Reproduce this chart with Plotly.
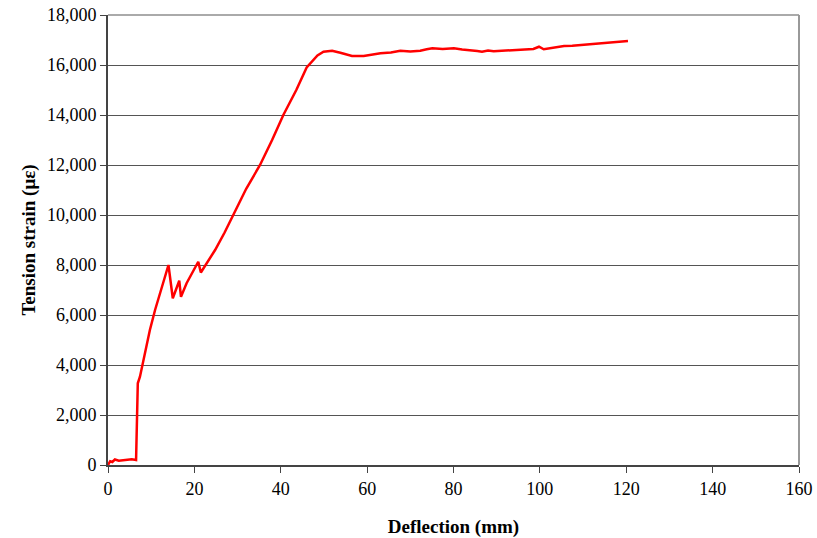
import plotly.graph_objects as go

deflection = [0.0, 0.5, 1.0, 1.6, 2.5, 3.5, 4.5, 5.5, 6.5, 6.7, 6.9, 7.4, 8.2, 9.0, 9.7, 10.9, 12.4, 13.4, 14.0,
              15.0, 16.5, 16.9, 18.2, 20.0, 20.9, 21.5, 23.7, 24.8, 27.0, 29.0, 32.0, 35.2, 38.0, 40.6,
              43.6, 46.0, 47.2, 48.5, 49.9, 51.9, 53.8, 56.5, 59.2, 61.0, 63.1, 65.5, 67.7, 70.0, 72.3,
              73.8, 75.1, 77.5, 80.1, 82.0, 83.9, 85.5, 86.6, 88.0, 89.3, 91.5, 94.0, 96.5, 98.5,
              99.8, 100.9, 103.0, 105.6, 107.5, 109.4, 111.5, 114.1, 115.5, 117.2, 119.0, 120.4]
strain = [0, 150, 120, 220, 170, 200, 210, 230, 200, 1500, 3270, 3530, 4200, 4850, 5400, 6200, 7130, 7650, 8000,
          6670, 7370, 6730, 7270, 7850, 8130, 7700, 8330, 8600, 9300, 10000, 11050, 12000, 13000, 14000,
          15000, 15900, 16130, 16380, 16530, 16570, 16490, 16360, 16360, 16420, 16470, 16500, 16570, 16540, 16570,
          16630, 16670, 16640, 16670, 16620, 16600, 16560, 16530, 16580, 16550, 16580, 16600, 16620, 16640,
          16730, 16630, 16680, 16760, 16770, 16800, 16840, 16890, 16900, 16930, 16950, 16960]

x_ticks = [0, 20, 40, 60, 80, 100, 120, 140, 160]
y_ticks = [0, 2000, 4000, 6000, 8000, 10000, 12000, 14000, 16000, 18000]

font_family = "Liberation Serif"

fig = go.Figure()
fig.add_trace(go.Scatter(x=deflection, y=strain, mode="lines",
                         line=dict(color="#ff0000", width=2.5), showlegend=False))

fig.update_layout(
    width=817, height=538,
    margin=dict(l=108, r=18, t=15, b=73, autoexpand=False),
    paper_bgcolor="white", plot_bgcolor="white",
    font=dict(family=font_family, size=18, color="black"),
    xaxis=dict(range=[0, 160], tickvals=x_ticks, ticktext=[str(v) for v in x_ticks],
               automargin=False,
               showgrid=False, zeroline=False, showline=True, linecolor="#444", linewidth=2,
               ticks="outside", ticklen=6, tickcolor="#444", tickwidth=1,
               tickfont=dict(family=font_family, size=18),
               title=dict(text="<b>Deflection (mm)</b>", font=dict(family=font_family, size=19), standoff=22)),
    yaxis=dict(range=[0, 18000], tickvals=y_ticks, ticktext=[f"{v:,}" for v in y_ticks],
               automargin=False,
               showgrid=True, gridcolor="#555", gridwidth=1, zeroline=False,
               showline=True, linecolor="#444", linewidth=2,
               ticks="outside", ticklen=6, tickcolor="#444", tickwidth=1,
               tickfont=dict(family=font_family, size=18),
               title=dict(text="<b>Tension strain (με)</b>", font=dict(family=font_family, size=19), standoff=6)),
    shapes=[
        dict(type="line", xref="paper", yref="paper", x0=0, x1=1, y0=1, y1=1,
             line=dict(color="#aaa", width=2), layer="above"),
        dict(type="line", xref="paper", yref="paper", x0=1, x1=1, y0=0, y1=1,
             line=dict(color="#999", width=2), layer="above"),
    ],
)

fig.write_html("out.html")
